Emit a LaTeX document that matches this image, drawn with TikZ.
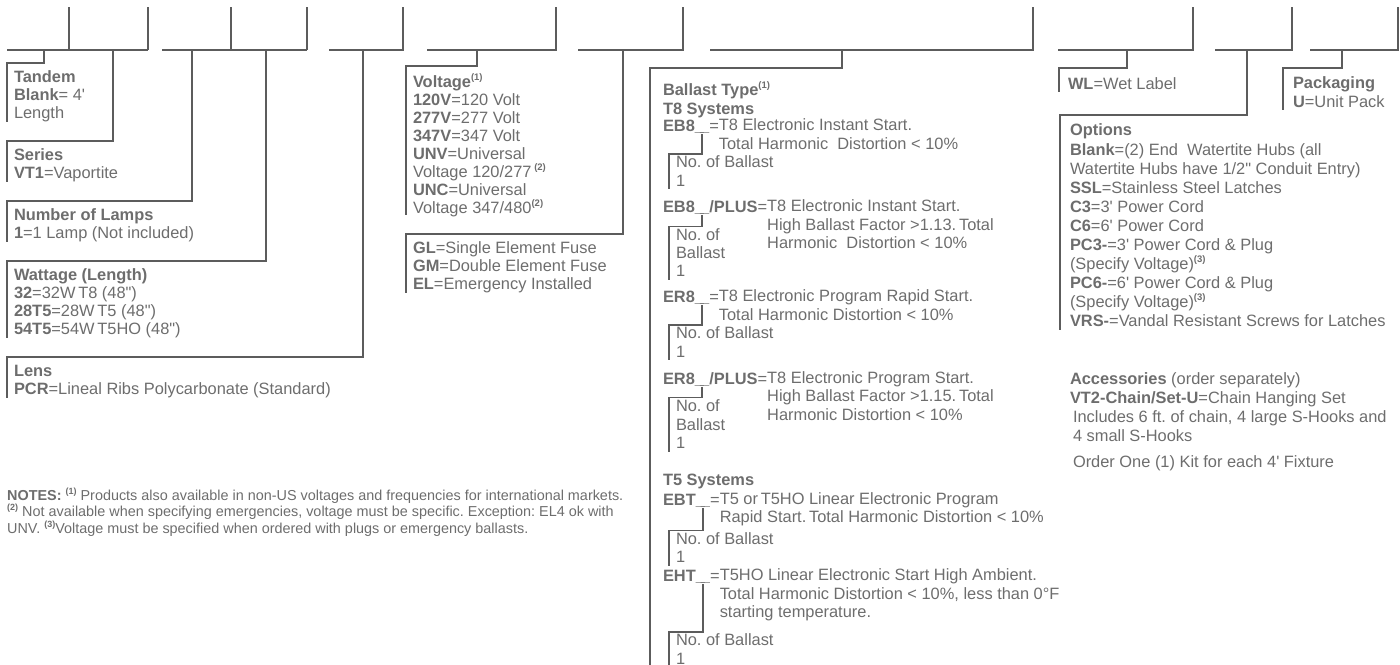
\documentclass[tikz,border=0pt]{standalone}
\usepackage{fontspec}
\newfontfamily\lsans{Liberation Sans}
\usetikzlibrary{calc}
\definecolor{txt}{HTML}{6D6D6D}
\definecolor{lnc}{HTML}{5C5C5C}
\newcommand\supnote[1]{\raisebox{0.42em}{\fontsize{9.5}{9.5}\selectfont\bfseries(#1)}}
\newcommand\nsup[1]{\raisebox{0.42em}{\fontsize{9}{9}\selectfont\bfseries(#1)}}
\newcommand\mainfnt{\lsans\frenchspacing\fontsize{16.4}{18.3}\selectfont}
\newcommand\notefnt{\lsans\frenchspacing\fontsize{14.4}{16.5}\selectfont}
\newcommand\topstrut{\rule{0pt}{12.8pt}}
\newcommand\uscore{\textbf{\_\kern-4pt\_}}
\def\up{6.93}
\begin{document}
\begin{tikzpicture}[x=1pt,y=-1pt,
  ln/.style={draw=lnc,line width=1.3pt},
  blk/.style={anchor=north west,inner sep=0pt,outer sep=0pt,align=left,text=txt,font=\mainfnt,execute at begin node=\topstrut},
  lpitch/.style={font=\lsans\frenchspacing\fontsize{16.4}{#1}\selectfont}]
\useasboundingbox (0,0) rectangle (1400,664);

% ---------- code slots on top ----------
\draw[ln] (7,50) -- (148,50);
\draw[ln] (69,7) -- (69,50);
\draw[ln] (148,7) -- (148,50);
\draw[ln] (162,50) -- (307,50);
\draw[ln] (231,7) -- (231,50);
\draw[ln] (307,7) -- (307,50);
\draw[ln] (329,50) -- (403,50) -- (403,7);
\draw[ln] (427,50) -- (556,50) -- (556,7);
\draw[ln] (578,50) -- (683,50) -- (683,7);
\draw[ln] (710,50) -- (1033,50) -- (1033,7);
\draw[ln] (1058,50) -- (1193,50) -- (1193,7);
\draw[ln] (1215,50) -- (1292,50) -- (1292,7);
\draw[ln] (1310,50) -- (1398,50) -- (1398,7);

\coordinate (dTandem) at (44,50);
\coordinate (dSeries) at (113,50);
\coordinate (dLamps) at (192,50);
\coordinate (dWatt) at (266,50);
\coordinate (dLens) at (363,50);
\coordinate (dVolt) at (477,50);
\coordinate (dFuse) at (623,50);
\coordinate (dBallast) at (842,50);
\coordinate (dWL) at (1127,50);
\coordinate (dOpt) at (1247,50);
\coordinate (dPack) at (1342,50);

% ---------- left column ----------
\node[blk,lpitch=18] (tandem) at (14,78-\up) {\textbf{Tandem}\\\textbf{Blank}= 4'\\Length};
\draw[ln] (dTandem) |- (7,63) -- (7,122);
\node[blk,lpitch=18] (series) at (14,156-\up) {\textbf{Series}\\\textbf{VT1}=Vaportite};
\draw[ln] (dSeries) |- (7,141) -- (7,182);
\node[blk,lpitch=18] (lamps) at (14,216-\up) {\textbf{Number of Lamps}\\\textbf{1}=1 Lamp (Not included)};
\draw[ln] (dLamps) |- (7,201) -- (7,242);
\node[blk,lpitch=18] (watt) at (14,276-\up) {\textbf{Wattage (Length)}\\\textbf{32}=32W\,T8 (48")\\\textbf{28T5}=28W\,T5 (48")\\\textbf{54T5}=54W\,T5HO (48")};
\draw[ln] (dWatt) |- (7,261) -- (7,338);
\node[blk,lpitch=18] (lens) at (14,372-\up) {\textbf{Lens}\\\textbf{PCR}=Lineal Ribs Polycarbonate (Standard)};
\draw[ln] (dLens) |- (7,357) -- (7,398);

% ---------- voltage / fuse ----------
\node[blk,lpitch=18] (volt) at (413,81-\up) {\textbf{Voltage}\supnote{1}\\\textbf{120V}=120 Volt\\\textbf{277V}=277 Volt\\\textbf{347V}=347 Volt\\\textbf{UNV}=Universal\\Voltage 120/277\,\supnote{2}\\\textbf{UNC}=Universal\\Voltage 347/480\supnote{2}};
\draw[ln] (dVolt) |- (406,66) -- (406,215);
\node[blk,lpitch=18] (fuse) at (413,249-\up) {\textbf{GL}=Single Element Fuse\\\textbf{GM}=Double Element Fuse\\\textbf{EL}=Emergency Installed};
\draw[ln] (dFuse) |- (406,234) -- (406,293);

% ---------- ballast ----------
\draw[ln] (dBallast) |- (650,68) -- (650,668);
\node[blk,lpitch=19] (btype) at (663,89-\up) {\textbf{Ballast Type}\supnote{1}\\\textbf{T8 Systems}};

% EB8
\node[blk] (eb8c) at (663,126-\up) {\textbf{EB8}};
\node[blk] (eb8u) at (eb8c.north east) {\uscore};
\node[blk] (eb8e) at (eb8u.north east) {=};
\node[blk] (eb8d) at (eb8e.north east) {T8 Electronic Instant Start.\\Total Harmonic\ \ Distortion < 10\%};
\node[blk] (eb8n) at (676,163-\up) {No. of Ballast\\1};
\draw[ln] ($(eb8u.base)+(0,2.5)$) |- (669,154) -- (669,189);

% EB8/PLUS
\node[blk] (ebpc) at (663,207-\up) {\textbf{EB8}};
\node[blk] (ebpu) at (ebpc.north east) {\uscore};
\node[blk] (ebpe) at (ebpu.north east) {\textbf{/PLUS}=};
\node[blk] (ebpd) at (ebpe.north east) {T8 Electronic Instant Start.\\High Ballast Factor >1.13.\,Total\\Harmonic\ \ Distortion < 10\%};
\node[blk] (ebpn) at (676,235.3-\up) {No. of\\Ballast\\1};
\draw[ln] ($(ebpu.base)+(0,2.5)$) |- (669,226.3) -- (669,280);

% ER8
\node[blk] (er8c) at (663,297-\up) {\textbf{ER8}};
\node[blk] (er8u) at (er8c.north east) {\uscore};
\node[blk] (er8e) at (er8u.north east) {=};
\node[blk] (er8d) at (er8e.north east) {T8 Electronic Program Rapid Start.\\Total Harmonic Distortion < 10\%};
\node[blk] (er8n) at (676,334-\up) {No. of Ballast\\1};
\draw[ln] ($(er8u.base)+(0,2.5)$) |- (669,325) -- (669,360);

% ER8/PLUS
\node[blk] (erpc) at (663,378.5-\up) {\textbf{ER8}};
\node[blk] (erpu) at (erpc.north east) {\uscore};
\node[blk] (erpe) at (erpu.north east) {\textbf{/PLUS}=};
\node[blk] (erpd) at (erpe.north east) {T8 Electronic Program Start.\\High Ballast Factor >1.15.\,Total\\Harmonic Distortion < 10\%};
\node[blk] (erpn) at (676,406.8-\up) {No. of\\Ballast\\1};
\draw[ln] ($(erpu.base)+(0,2.5)$) |- (669,397.8) -- (669,451.5);

% T5
\node[blk] (t5) at (663,480-\up) {\textbf{T5 Systems}};

\node[blk] (ebtc) at (663,499.5-\up) {\textbf{EBT}};
\node[blk] (ebtu) at (ebtc.north east) {\uscore};
\node[blk] (ebte) at (ebtu.north east) {=};
\node[blk] (ebtd) at (ebte.north east) {T5 or\,T5HO Linear Electronic Program\\Rapid Start.\,Total Harmonic Distortion < 10\%};
\node[blk] (ebtn) at (676,539.5-\up) {No. of Ballast\\1};
\draw[ln] ($(ebtu.base)+(0,2.5)$) |- (669,530.5) -- (669,566);

\node[blk] (ehtc) at (663,576-\up) {\textbf{EHT}};
\node[blk] (ehtu) at (ehtc.north east) {\uscore};
\node[blk] (ehte) at (ehtu.north east) {=};
\node[blk] (ehtd) at (ehte.north east) {T5HO Linear Electronic Start High Ambient.\\Total Harmonic Distortion < 10\%, less than 0°F\\starting temperature.};
\node[blk] (ehtn) at (676,641-\up) {No. of Ballast\\1};
\draw[ln] ($(ehtu.base)+(0,2.5)$) |- (669,632) -- (669,670);

% ---------- right side ----------
\node[blk] (wl) at (1068,84-\up) {\textbf{WL}=Wet Label};
\draw[ln] (dWL) |- (1059,68) -- (1059,92);
\node[blk,lpitch=19] (pack) at (1293,84-\up) {\textbf{Packaging}\\\textbf{U}=Unit Pack};
\draw[ln] (dPack) |- (1283,68) -- (1283,110);
\node[blk,lpitch=19.1] (opt) at (1070,131-\up) {\textbf{Options}\\\textbf{Blank}=(2) End\ \ Watertite Hubs (all\\Watertite Hubs have 1/2" Conduit Entry)\\\textbf{SSL}=Stainless Steel Latches\\\textbf{C3}=3' Power Cord\\\textbf{C6}=6' Power Cord\\\textbf{PC3-}=3' Power Cord \& Plug\\(Specify Voltage)\supnote{3}\\\textbf{PC6-}=6' Power Cord \& Plug\\(Specify Voltage)\supnote{3}\\\textbf{VRS-}=Vandal Resistant Screws for Latches};
\draw[ln] (dOpt) |- (1060,115) -- (1060,330);

\node[blk,lpitch=18.5] (acc) at (1070,380-\up) {\textbf{Accessories} (order separately)\\\textbf{VT2-Chain/Set-U}=Chain Hanging Set};
\node[blk,lpitch=19] (accinc) at (1073,418-\up) {Includes 6 ft. of chain, 4 large S-Hooks and\\4 small S-Hooks};
\node[blk] (accord) at (1073,462-\up) {Order One (1) Kit for each 4' Fixture};

% ---------- notes ----------
\node[anchor=north west,inner sep=0pt,align=left,text=txt,font=\notefnt] (notes) at (7,494-6.4) {\rule{0pt}{11.55pt}\textbf{NOTES:} \nsup{1} Products also available in non-US voltages and frequencies for international markets.\\\nsup{2} Not available when specifying emergencies, voltage must be specific. Exception: EL4 ok with\\UNV. \nsup{3}Voltage must be specified when ordered with plugs or emergency ballasts.};
\end{tikzpicture}
\end{document}
